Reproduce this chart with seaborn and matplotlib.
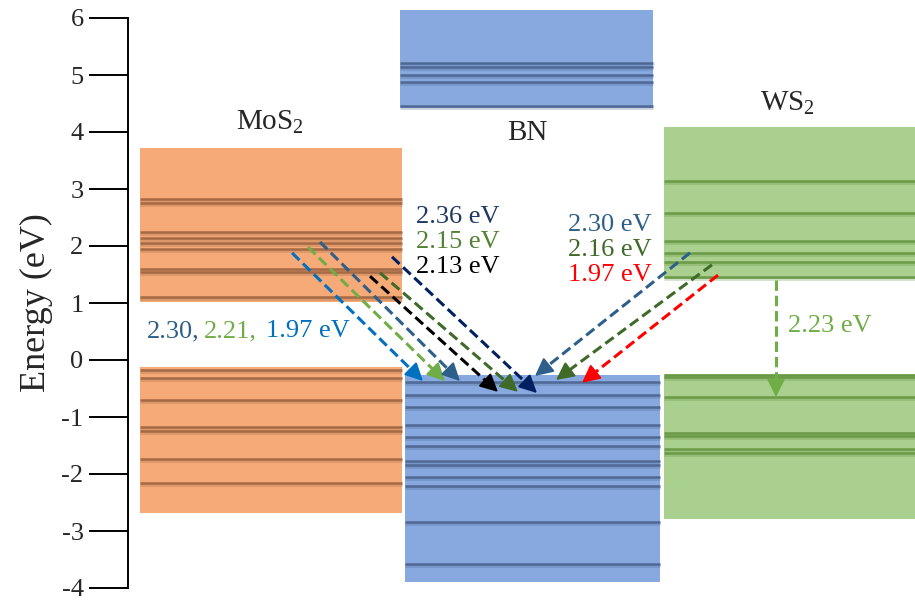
import numpy as np
import pandas as pd
import seaborn as sns
import matplotlib
matplotlib.use("Agg")
import matplotlib.pyplot as plt

sns.set_theme(style="white")
plt.rcParams["font.family"] = ["Liberation Serif", "DejaVu Serif"]
plt.rcParams["mathtext.fontset"] = "custom"
plt.rcParams["mathtext.rm"] = "Liberation Serif"

# ---- band data (eV) ----
materials = ["MoS$_\\mathrm{2}$", "BN", "WS$_\\mathrm{2}$"]
cb_top = [3.72, 6.14, 4.09]
cb_bottom = [1.02, 4.42, 1.42]
vb_top = [-0.12, -0.26, -0.25]
vb_bottom = [-2.68, -3.89, -2.79]

mos2_cb_levels = [2.83, 2.76, 2.25, 2.14, 2.06, 1.94, 1.60, 1.54, 1.10]
mos2_vb_levels = [-0.18, -0.32, -0.70, -1.18, -1.25, -1.74, -2.16]
bn_cb_levels = [5.21, 5.14, 5.00, 4.88, 4.46]
bn_vb_levels = [-0.39, -0.61, -0.82, -1.14, -1.35, -1.51, -1.77, -1.84,
                -2.05, -2.21, -2.84, -3.58]
ws2_cb_levels = [3.14, 2.58, 2.09, 1.88, 1.72, 1.46]
ws2_vb_levels = [-0.26, -0.30, -0.65, -1.28, -1.33, -1.56, -1.63]

# transitions: start / end energies
trans_start = [1.88, 1.98, 2.07, 1.47, 1.53, 1.81, 1.88, 1.67, 1.49, 1.40]
trans_end = [-0.37, -0.37, -0.37, -0.56, -0.56, -0.58, -0.28, -0.35, -0.40, -0.65]
trans_colors = ["#0070C0", "#70AD47", "#2E5F8A", "#000000", "#3F6A28",
                "#002060", "#2E5F8A", "#3F6A28", "#FF0000", "#70AD47"]

yticks = [6, 5, 4, 3, 2, 1, 0, -1, -2, -3, -4]

# ---- layout ----
fills = ["#F5AA78", "#88A9E0", "#A9D08E"]
level_cols = ["#A46A45", "#4F6894", "#6A9A48"]
x_spans = [(140, 402), (400, 653), (664, 915)]
x_spans_vb = [(140, 402), (405, 660), (664, 915)]
trans_x0 = [292, 308, 320, 370, 380, 392, 690, 712, 718, 776]
trans_x1 = [423, 445, 460, 498, 518, 537, 535, 556, 582, 776]

fig = plt.figure(figsize=(9.15, 6.05), dpi=100)
ax = fig.add_axes([128 / 915, 0, 1 - 128 / 915, 1])
ax.set_xlim(128, 915)
ax.set_ylim((360 - 605) / 57, 360 / 57)
ax.set_facecolor("white")
for s in ["top", "right", "bottom"]:
    ax.spines[s].set_visible(False)
ax.spines["left"].set_bounds(-4, 6)
ax.spines["left"].set_color("black")
ax.spines["left"].set_linewidth(1.4)
ax.set_yticks(yticks)
ax.set_yticklabels([str(t) for t in yticks])
ax.tick_params(axis="y", direction="out", length=28, width=1.4,
               color="black", labelsize=19, pad=4, left=True)
ax.set_xticks([])
ax.set_ylabel("Energy (eV)", fontsize=26, labelpad=6)

level_sets = [(mos2_cb_levels, mos2_vb_levels),
              (bn_cb_levels, bn_vb_levels),
              (ws2_cb_levels, ws2_vb_levels)]


def draw_levels(x0, x1, levels, col):
    for e in levels:
        ax.hlines(e, x0, x1, color=col, lw=1.8, zorder=3)
        ax.hlines(e - 0.035, x0, x1, color=col, lw=2.0, alpha=0.3, zorder=3)


for i in range(3):
    xa, xb = x_spans[i]
    ax.fill_between([xa, xb], cb_bottom[i], cb_top[i], color=fills[i],
                    lw=0, zorder=2)
    xa2, xb2 = x_spans_vb[i]
    ax.fill_between([xa2, xb2], vb_bottom[i], vb_top[i], color=fills[i],
                    lw=0, zorder=2)
    cb_lv, vb_lv = level_sets[i]
    draw_levels(xa, xb, cb_lv, level_cols[i])
    draw_levels(xa2, xb2, vb_lv, level_cols[i])


def ey(py):
    return (360 - py) / 57


# material names
ax.text(270, ey(122), materials[0], ha="center", va="center", fontsize=21)
ax.text(527, ey(133), materials[1], ha="center", va="center", fontsize=21)
ax.text(787, ey(103), materials[2], ha="center", va="center", fontsize=21)

# transitions: dashed shaft + solid head
for x0, x1, e0, e1, c in zip(trans_x0, trans_x1, trans_start, trans_end,
                             trans_colors):
    dx, dy = x1 - x0, (e1 - e0) * 57
    L = np.hypot(dx, dy)
    f = 1 - 12 / L
    xm, em = x0 + dx * f, e0 + (e1 - e0) * f
    ax.plot([x0, xm], [e0, em], color=c, lw=2.2, ls=(0, (3.4, 1.6)),
            zorder=5, solid_capstyle="butt", dash_capstyle="butt")
    ax.annotate("", xy=(x1, e1), xytext=(xm + dx * 0.2 / L, em),
                arrowprops=dict(arrowstyle="-|>,head_length=0.9,head_width=0.45",
                                color=c, lw=1.5, shrinkA=0, shrinkB=0),
                zorder=6)

# energy labels
lab_kw = dict(fontsize=19, va="center", ha="left", zorder=7)
ax.text(416, ey(217), "2.36 eV", color="#1F3864", **lab_kw)
ax.text(416, ey(242), "2.15 eV", color="#548235", **lab_kw)
ax.text(416, ey(267), "2.13 eV", color="#000000", **lab_kw)
ax.text(568, ey(225), "2.30 eV", color="#2E5F8A", **lab_kw)
ax.text(568, ey(250), "2.16 eV", color="#3F6A28", **lab_kw)
ax.text(568, ey(275), "1.97 eV", color="#FF0000", **lab_kw)
ax.text(147, ey(331), "2.30,", color="#2E5F8A", **lab_kw)
ax.text(204, ey(331), "2.21,", color="#70AD47", **lab_kw)
ax.text(266, ey(331), "1.97 eV", color="#0070C0", **lab_kw)
ax.text(788, ey(326), "2.23 eV", color="#70AD47", **lab_kw)

fig.savefig("out.png", dpi=100)
